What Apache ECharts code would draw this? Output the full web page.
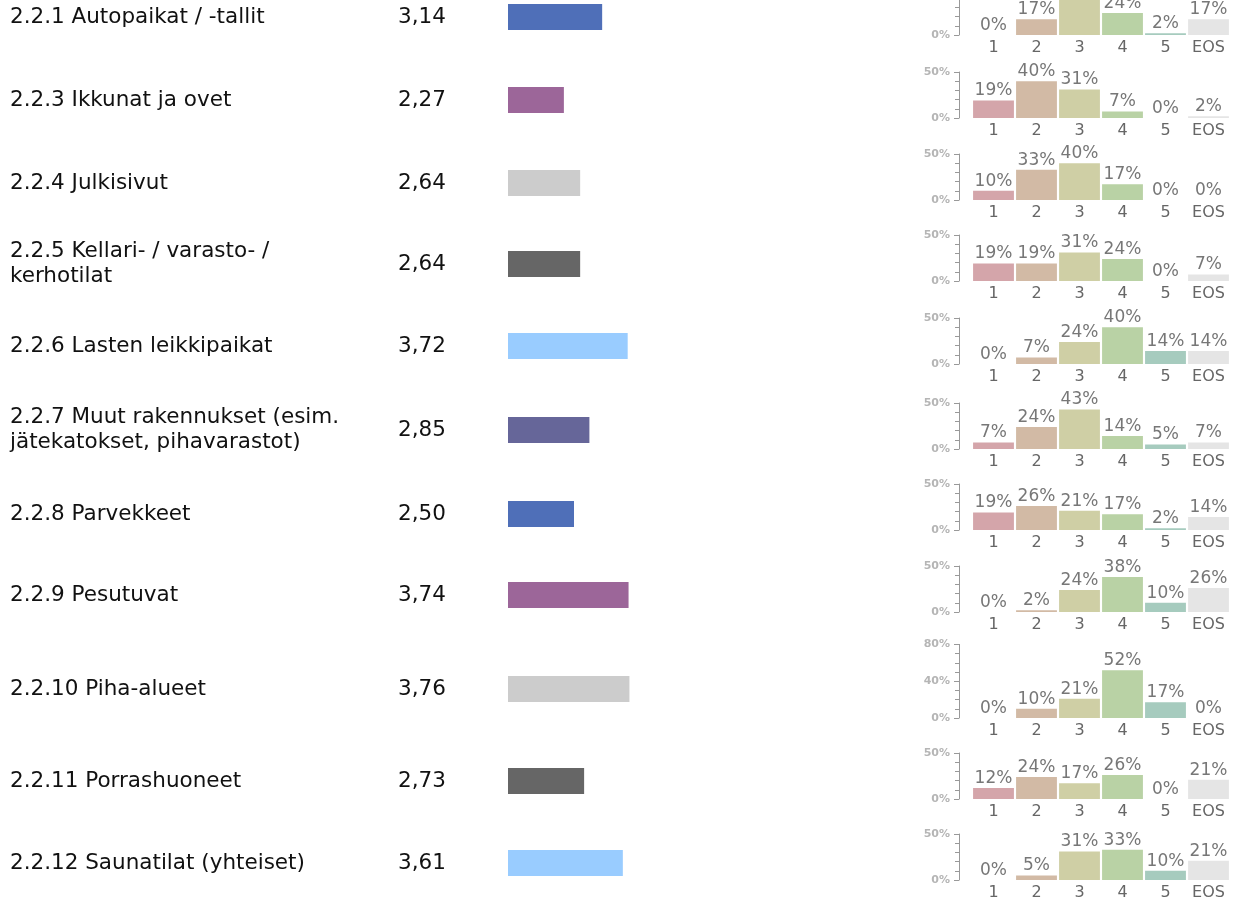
<!DOCTYPE html>
<html>
<head>
<meta charset="utf-8">
<script src="https://cdn.jsdelivr.net/npm/echarts@6/dist/echarts.min.js"></script>
<style>
  html, body { margin: 0; padding: 0; background: #fff; }
  #main { width: 1235px; height: 900px; }
</style>
</head>
<body>
<div id="main"></div>
<script>
// kysymykset, keskiarvot ja jakaumat (%)
const questions = [
  '2.2.1 Autopaikat / -tallit',
  '2.2.3 Ikkunat ja ovet',
  '2.2.4 Julkisivut',
  '2.2.5 Kellari- / varasto- /\nkerhotilat',
  '2.2.6 Lasten leikkipaikat',
  '2.2.7 Muut rakennukset (esim.\njätekatokset, pihavarastot)',
  '2.2.8 Parvekkeet',
  '2.2.9 Pesutuvat',
  '2.2.10 Piha-alueet',
  '2.2.11 Porrashuoneet',
  '2.2.12 Saunatilat (yhteiset)'
]
const means = [3.14, 2.27, 2.64, 2.64, 3.72, 2.85, 2.50, 3.74, 3.76, 2.73, 3.61]
const answerCats = ['1', '2', '3', '4', '5', 'EOS']
const dist = [
  [0, 17, 40, 24, 2, 17],
  [19, 40, 31, 7, 0, 2],
  [10, 33, 40, 17, 0, 0],
  [19, 19, 31, 24, 0, 7],
  [0, 7, 24, 40, 14, 14],
  [7, 24, 43, 14, 5, 7],
  [19, 26, 21, 17, 2, 14],
  [0, 2, 24, 38, 10, 26],
  [0, 10, 21, 52, 17, 0],
  [12, 24, 17, 26, 0, 21],
  [0, 5, 31, 33, 10, 21]
]
const distMax = [50, 50, 50, 50, 50, 50, 50, 50, 80, 50, 50]
const distTicks = [50, 50, 50, 50, 50, 50, 50, 50, 40, 50, 50]

// ulkoasu
const meanColors = ['#4f6fb8', '#9c6699', '#cccccc', '#666666', '#99ccff', '#666699']
const distColors = ['#d4a5aa', '#d2baa5', '#cfcfa5', '#b9d2a5', '#a6cbbe', '#e5e5e5']
const rowCenters = [17, 100, 183, 264, 346, 430, 514, 595, 689, 781, 863]
const baselines = [35, 118, 200, 281, 364, 449, 530, 612, 718, 799, 880]
const pxPerPct = 0.92
const FONT = 'DejaVu Sans'

const chart = echarts.init(document.getElementById('main'))
const option = {
  animation: false,
  textStyle: { fontFamily: FONT },
  grid: [], xAxis: [], yAxis: [], series: [], graphic: []
}

questions.forEach((q, i) => {
  const c = rowCenters[i]
  // keskiarvopalkki
  option.grid.push({ left: 508, width: 176, top: c - 13, height: 26, outerBoundsMode: 'none' })
  option.xAxis.push({ gridIndex: 2 * i, type: 'value', min: 1, max: 5, show: false })
  option.yAxis.push({ gridIndex: 2 * i, type: 'category', data: [q], show: false })
  option.series.push({
    type: 'bar', xAxisIndex: 2 * i, yAxisIndex: 2 * i,
    data: [means[i]], barWidth: '100%',
    itemStyle: { color: meanColors[i % meanColors.length] }
  })
  // jakauma
  const h = distMax[i] * pxPerPct
  option.grid.push({ left: 972, width: 258, top: baselines[i] - h, height: h, outerBoundsMode: 'none' })
  option.xAxis.push({
    gridIndex: 2 * i + 1, type: 'category', data: answerCats,
    axisLine: { show: false }, axisTick: { show: false },
    axisLabel: { color: '#666', fontSize: 16, margin: 5, interval: 0 }
  })
  option.yAxis.push({
    gridIndex: 2 * i + 1, type: 'value', min: 0, max: distMax[i], interval: distTicks[i],
    offset: 13,
    axisLine: { show: true, lineStyle: { color: '#999' } },
    axisTick: { show: true, length: 5, lineStyle: { color: '#999' } },
    minorTick: { show: true, splitNumber: distTicks[i] / 10, length: 4, lineStyle: { color: '#999' } },
    splitLine: { show: false },
    axisLabel: { color: '#b5b5b5', fontSize: 11, fontWeight: 'bold', margin: 9, formatter: '{value}%' }
  })
  option.series.push({
    type: 'bar', xAxisIndex: 2 * i + 1, yAxisIndex: 2 * i + 1,
    data: dist[i].map((v, k) => ({ value: v, itemStyle: { color: distColors[k] } })),
    barCategoryGap: '5%',
    label: { show: true, position: 'top', distance: 1, color: '#777', fontSize: 17, formatter: '{c}%' }
  })
  // tekstit
  option.graphic.push({
    type: 'text', x: 10, y: c, silent: true,
    style: { text: q, fontSize: 21.5, fontFamily: FONT, fill: '#111', lineHeight: 25, verticalAlign: 'middle' }
  })
  option.graphic.push({
    type: 'text', x: 398, y: c, silent: true,
    style: { text: means[i].toFixed(2).replace('.', ','), fontSize: 21.5, fontFamily: FONT, fill: '#111', verticalAlign: 'middle' }
  })
})

chart.setOption(option)
</script>
</body>
</html>
